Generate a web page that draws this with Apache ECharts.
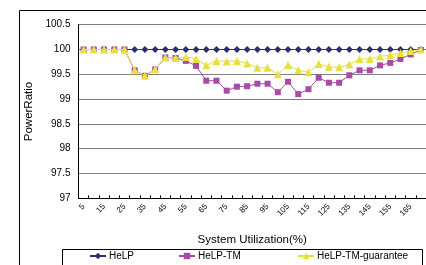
<!DOCTYPE html>
<html>
<head>
<meta charset="utf-8">
<script src="https://cdn.jsdelivr.net/npm/echarts@6/dist/echarts.min.js"></script>
<style>
  html, body { margin: 0; padding: 0; background: #fff; }
  #chart { width: 426px; height: 265px; }
</style>
</head>
<body>
<div id="chart"></div>
<script>
// 横轴: 系统利用率 5..170
const categories = ['5', '10', '15', '20', '25', '30', '35', '40', '45', '50',
    '55', '60', '65', '70', '75', '80', '85', '90', '95', '100',
    '105', '110', '115', '120', '125', '130', '135', '140', '145', '150',
    '155', '160', '165', '170'];

const help = [100, 100, 100, 100, 100, 100, 100, 100, 100, 100,
    100, 100, 100, 100, 100, 100, 100, 100, 100, 100,
    100, 100, 100, 100, 100, 100, 100, 100, 100, 100,
    100, 100, 100, 100];

const helpTm = [100, 100, 100, 100, 100, 99.58, 99.47, 99.6, 99.84, 99.83,
    99.77, 99.67, 99.37, 99.37, 99.17, 99.25, 99.26, 99.31, 99.31, 99.14,
    99.35, 99.1, 99.2, 99.43, 99.33, 99.33, 99.48, 99.58, 99.58, 99.68,
    99.73, 99.81, 99.9, 99.99];

const helpTmGuarantee = [100, 100, 100, 100, 100, 99.58, 99.47, 99.6, 99.84, 99.83,
    99.85, 99.81, 99.68, 99.77, 99.76, 99.77, 99.72, 99.63, 99.63, 99.5,
    99.69, 99.58, 99.54, 99.71, 99.65, 99.64, 99.7, 99.81, 99.81, 99.86,
    99.89, 99.93, 99.97, 100];

const yTicks = { min: 97, max: 100.5, step: 0.5 };

const font = '"Liberation Sans", Arial, sans-serif';
const colors = ['#2e2e6e', '#a64ca6', '#e6e040'];

let myChart = echarts.init(document.getElementById('chart'));

function legendAt(name, left) {
    return {
        data: [name],
        left: left,
        top: 251,
        padding: 0,
        itemWidth: 16,
        itemHeight: 8,
        itemGap: 0,
        textStyle: { fontFamily: font, fontSize: 10, color: '#000', padding: [0, 0, 0, -2] }
    };
}

myChart.setOption({
    animation: false,
    color: colors,
    graphic: [
        { type: 'rect', z: -1, shape: { x: 19.5, y: 10.5, width: 440, height: 300 },
          style: { fill: '#fff', stroke: '#000', lineWidth: 1 } },
        { type: 'rect', z: -1, shape: { x: 62.5, y: 249.5, width: 360, height: 30 },
          style: { fill: '#fff', stroke: '#000', lineWidth: 1 } }
    ],
    legend: [
        legendAt('HeLP', 89),
        legendAt('HeLP-TM', 178),
        legendAt('HeLP-TM-guarantee', 297)
    ],
    grid: {
        left: 78.5,
        top: 24.7,
        width: 352.2,
        height: 173.6,
        containLabel: false
    },
    xAxis: {
        type: 'category',
        data: categories,
        boundaryGap: true,
        name: 'System Utilization(%)',
        nameLocation: 'middle',
        nameGap: 36,
        nameTextStyle: { fontFamily: font, fontSize: 11.5, color: '#000' },
        axisLine: { lineStyle: { color: '#000', width: 1 } },
        axisTick: { show: true, inside: true, length: 3, interval: 0, lineStyle: { color: '#000' } },
        axisLabel: {
            interval: 1,
            rotate: 45,
            margin: 7,
            fontFamily: font,
            fontSize: 8,
            color: '#000'
        },
        splitLine: { show: false }
    },
    yAxis: {
        type: 'value',
        min: yTicks.min,
        max: yTicks.max,
        interval: yTicks.step,
        name: 'PowerRatio',
        nameLocation: 'middle',
        nameGap: 38,
        nameTextStyle: { fontFamily: font, fontSize: 11.5, color: '#000' },
        axisLine: { show: true, lineStyle: { color: '#000', width: 1 } },
        axisTick: { show: false },
        axisLabel: { margin: 8, fontFamily: font, fontSize: 10, color: '#000' },
        splitLine: { lineStyle: { color: '#808080', width: 1.2 } }
    },
    series: [{
        name: 'HeLP',
        type: 'line',
        data: help,
        showAllSymbol: true,
        symbol: 'diamond',
        symbolSize: 7,
        lineStyle: { width: 1.2, color: colors[0] },
        itemStyle: { color: colors[0] },
        z: 3
    }, {
        name: 'HeLP-TM',
        type: 'line',
        data: helpTm,
        showAllSymbol: true,
        symbol: 'rect',
        symbolSize: 6,
        lineStyle: { width: 1, color: colors[1] },
        itemStyle: { color: colors[1] },
        z: 4
    }, {
        name: 'HeLP-TM-guarantee',
        type: 'line',
        data: helpTmGuarantee,
        showAllSymbol: true,
        symbol: 'triangle',
        symbolSize: 8,
        lineStyle: { width: 1, color: colors[2] },
        itemStyle: { color: colors[2] },
        z: 5
    }]
});
</script>
</body>
</html>
